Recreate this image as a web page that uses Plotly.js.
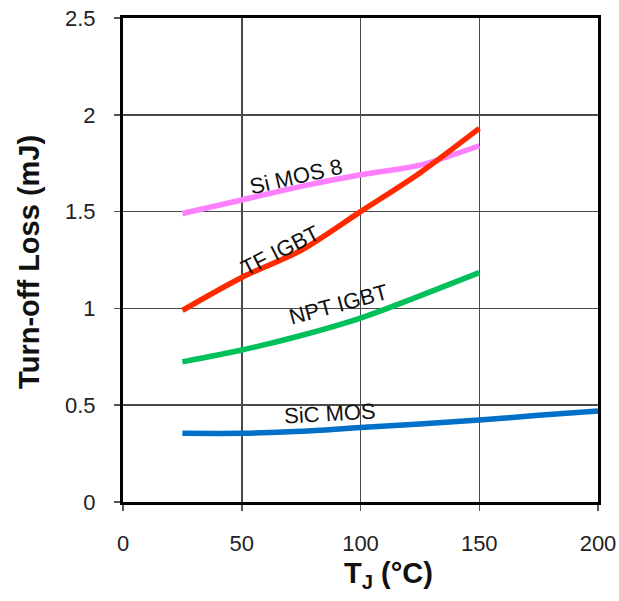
<!DOCTYPE html>
<html>
<head>
<meta charset="utf-8">
<script src="https://cdn.plot.ly/plotly-3.0.1.min.js"></script>
<style>html,body{margin:0;padding:0;background:#fff;}</style>
</head>
<body>
<div id="chart" style="width:619px;height:601px;"></div>
<script>
// Data
const tempSi = [25, 50, 75, 100, 125, 150];
const siMos8 = [1.49, 1.56, 1.63, 1.69, 1.74, 1.84];
const tfIgbt = [0.99, 1.16, 1.30, 1.50, 1.70, 1.93];
const nptIgbt = [0.724, 0.785, 0.86, 0.95, 1.065, 1.185];
const tempSiC = [25, 50, 75, 100, 125, 150, 175, 200];
const sicMos = [0.355, 0.355, 0.365, 0.385, 0.403, 0.423, 0.448, 0.47];
const seriesNames = ["Si MOS 8", "TF IGBT", "NPT IGBT", "SiC MOS"];
const xTicks = [0, 50, 100, 150, 200];
const yTicks = [0, 0.5, 1, 1.5, 2, 2.5];
const yTickText = ["0", "0.5", "1", "1.5", "2", "2.5"];

const FONT = "Liberation Sans, Arial, sans-serif";

function line(x, y, color, name) {
  return {x: x, y: y, type: "scatter", mode: "lines", name: name,
          line: {color: color, width: 5.5, shape: "spline", smoothing: 0.8},
          hoverinfo: "skip"};
}

const traces = [
  line(tempSi, siMos8, "#ff80ff", seriesNames[0]),
  line(tempSi, tfIgbt, "#ff2a00", seriesNames[1]),
  line(tempSi, nptIgbt, "#00c05a", seriesNames[2]),
  line(tempSiC, sicMos, "#0070c8", seriesNames[3])
];

const labelFont = {family: FONT, size: 22, color: "#111"};
function lab(text, x, y, ang) {
  return {text: text, x: x, y: y, xref: "x", yref: "y", showarrow: false,
          textangle: ang, font: labelFont, xanchor: "center", yanchor: "middle"};
}

const layout = {
  width: 619, height: 601,
  margin: {l: 123, r: 21, t: 18, b: 99},
  paper_bgcolor: "#fff", plot_bgcolor: "#fff",
  showlegend: false,
  xaxis: {
    range: [0, 200], tickvals: xTicks, ticktext: xTicks.map(String),
    showgrid: true, gridcolor: "#4a4a4a", gridwidth: 1.5,
    showline: true, linecolor: "#000", linewidth: 3, mirror: true,
    ticks: "outside", ticklen: 6, tickcolor: "#555", tickwidth: 1.5,
    ticklabelstandoff: 14,
    tickfont: {family: FONT, size: 22, color: "#222"},
    zeroline: false
  },
  yaxis: {
    range: [0, 2.5], tickvals: yTicks, ticktext: yTickText,
    showgrid: true, gridcolor: "#4a4a4a", gridwidth: 1.5,
    showline: true, linecolor: "#000", linewidth: 3, mirror: true,
    ticks: "outside", ticklen: 6, tickcolor: "#555", tickwidth: 1.5,
    ticklabelstandoff: 14,
    tickfont: {family: FONT, size: 22, color: "#222"},
    zeroline: false
  },
  annotations: [
    lab(seriesNames[0], 72.9, 1.68, -13),
    lab(seriesNames[1], 66.2, 1.30, -27),
    lab(seriesNames[2], 90.6, 1.018, -15),
    lab(seriesNames[3], 87.2, 0.459, -3),
    {text: "<b>Turn-off Loss (mJ)</b>", xref: "paper", yref: "paper",
     x: -0.197, y: 0.497, textangle: -90, showarrow: false,
     font: {family: FONT, size: 29, color: "#111"}, xanchor: "center", yanchor: "middle"},
    {text: "<b>T<sub>J</sub> (°C)</b>", xref: "paper", yref: "paper",
     x: 0.558, y: -0.15, showarrow: false,
     font: {family: FONT, size: 29, color: "#111"}, xanchor: "center", yanchor: "middle"}
  ]
};

Plotly.newPlot("chart", traces, layout, {staticPlot: true, displayModeBar: false});
</script>
</body>
</html>
